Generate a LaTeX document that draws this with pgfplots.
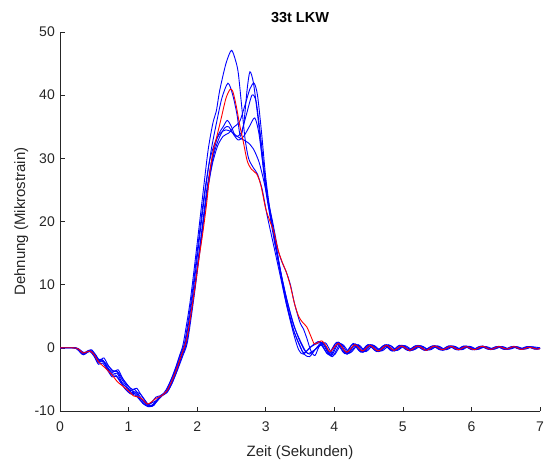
\documentclass[border=0pt]{standalone}
\usepackage{pgfplots}
\pgfplotsset{compat=1.18}
\usepackage{fontspec}
\setmainfont{Liberation Sans}
\definecolor{axgray}{RGB}{38,38,38}
\definecolor{mblue}{RGB}{0,0,255}
\definecolor{mred}{RGB}{255,0,0}

\begin{document}
\begin{tikzpicture}
\begin{axis}[
  scale only axis,
  width=480bp, height=379bp,
  xmin=0, xmax=7, ymin=-10, ymax=50,
  xtick={0,1,...,7}, ytick={-10,0,...,50},
  axis x line*=bottom, axis y line*=left,
  axis line style={draw=axgray, line width=0.6bp},
  tick style={draw=axgray, line width=0.6bp},
  tick align=inside, major tick length=4.5bp,
  /pgf/number format/assume math mode=true,
  tick label style={font=\fontsize{14bp}{16bp}\selectfont, text=axgray, inner sep=0pt},
  yticklabel style={anchor=east, xshift=-5bp},
  xticklabel style={anchor=north, yshift=-11bp},
  title={33t LKW},
  title style={font=\fontsize{14.5bp}{16bp}\selectfont\bfseries, text=black, inner sep=0pt,
    at={(axis description cs:0.5,1)}, anchor=base, yshift=4bp},
  xlabel={Zeit (Sekunden)},
  xlabel style={font=\fontsize{15bp}{17bp}\selectfont, text=axgray, inner sep=0pt,
    at={(axis description cs:0.5,0)}, anchor=base, yshift=-45bp},
  ylabel={Dehnung (Mikrostrain)},
  ylabel style={font=\fontsize{15bp}{17bp}\selectfont, text=axgray, inner sep=0pt,
    at={(axis description cs:-0.0729,0.5)}, anchor=base},
  every axis plot/.append style={smooth, tension=0.45, line width=0.9bp},
  clip=true,
]
\coordinate (sw) at (rel axis cs:0,0);

% Messfahrt 1
\addplot[mblue] coordinates {
(0,0) (0.22,0) (0.28,-0.3) (0.34,-0.9) (0.39,-0.6) (0.45,-0.4) (0.51,-1.2) (0.57,-2.2) (0.63,-2.0) (0.7,-3.3)
(0.77,-4.2) (0.83,-4.0) (0.9,-5.4) (0.97,-6.3) (1.05,-7.1) (1.1,-7.0) (1.17,-8.0) (1.23,-8.7) (1.29,-9.3) (1.35,-9.0)
(1.42,-8.2) (1.48,-7.6) (1.55,-6.6) (1.62,-5.0) (1.69,-3.0) (1.75,-1.0) (1.80,0.8) (1.9,7.5) (2.0,16.5) (2.08,24)
(2.16,31.3) (2.23,35.6) (2.28,37.5) (2.33,40.8) (2.42,45) (2.5,47.1) (2.56,45.5) (2.6,43.5) (2.65,38.2) (2.7,33)
(2.75,30) (2.82,28.5) (2.88,27.5) (2.95,25) (3.02,21) (3.1,17) (3.2,12) (3.3,7) (3.4,3) (3.5,0.3) (3.56,-0.8)
(3.68,0.3) (3.82,0.8) (3.94,-1.2) (4.06,0.9) (4.18,-1.0) (4.30,0.6) (4.41,-0.7) (4.52,0.5) (4.64,-0.6) (4.76,0.5)
(4.87,-0.5) (4.98,0.4) (5.10,-0.5) (5.22,0.4) (5.34,-0.4) (5.46,0.35) (5.58,-0.4) (5.70,0.3) (5.81,-0.35) (5.92,0.3)
(6.04,-0.3) (6.16,0.3) (6.28,-0.3) (6.40,0.25) (6.51,-0.25) (6.62,0.25) (6.73,-0.25) (6.84,0.2) (6.95,-0.2) (7.0,-0.1)
};
% Messfahrt 2
\addplot[mblue] coordinates {
(0,0) (0.21,0) (0.27,-0.4) (0.33,-1.0) (0.38,-0.8) (0.44,-0.5) (0.5,-1.3) (0.56,-2.4) (0.62,-2.0) (0.69,-3.0)
(0.76,-3.9) (0.82,-3.6) (0.89,-4.8) (0.96,-5.9) (1.03,-6.8) (1.09,-6.6) (1.16,-7.6) (1.22,-8.5) (1.28,-9.0) (1.34,-8.7)
(1.41,-8.3) (1.47,-7.5) (1.54,-7.1) (1.61,-5.8) (1.68,-3.8) (1.76,-1.3) (1.83,1.0) (1.93,8) (2.03,17) (2.12,25)
(2.2,31) (2.28,35.5) (2.36,39.5) (2.45,41.9) (2.52,40) (2.58,37) (2.63,33.5) (2.68,35.5) (2.73,41) (2.77,43.7)
(2.82,42) (2.88,37) (2.94,31) (3.0,25) (3.06,21) (3.14,16) (3.22,11.5) (3.3,7) (3.4,2.5) (3.48,-0.3) (3.55,-1.0)
(3.66,0.2) (3.79,1.0) (3.91,-1.0) (4.03,0.8) (4.15,-0.9) (4.27,0.6) (4.38,-0.6) (4.49,0.5) (4.61,-0.5) (4.73,0.4)
(4.84,-0.5) (4.95,0.4) (5.07,-0.4) (5.19,0.35) (5.31,-0.35) (5.43,0.3) (5.55,-0.35) (5.67,0.3) (5.78,-0.3) (5.89,0.3)
(6.01,-0.3) (6.13,0.25) (6.25,-0.25) (6.37,0.2) (6.48,-0.25) (6.59,0.2) (6.70,-0.2) (6.81,0.2) (6.92,-0.2) (7.0,0.0)
};
% Messfahrt 3
\addplot[mblue] coordinates {
(0,0) (0.23,0) (0.29,-0.3) (0.35,-0.8) (0.4,-0.5) (0.46,-0.3) (0.52,-1.1) (0.58,-2.0) (0.64,-1.6) (0.71,-2.9)
(0.78,-3.8) (0.85,-3.5) (0.92,-5.0) (0.99,-6.0) (1.06,-6.6) (1.12,-6.4) (1.19,-7.6) (1.25,-8.5) (1.31,-9.3) (1.37,-9.1)
(1.44,-8.0) (1.5,-7.3) (1.57,-6.9) (1.64,-5.5) (1.71,-3.6) (1.79,-1.3) (1.86,1.0) (1.96,8.5) (2.06,17) (2.15,25)
(2.24,30.5) (2.32,33.2) (2.4,34.8) (2.46,35) (2.53,33.8) (2.6,32.9) (2.68,33.5) (2.76,35) (2.84,36.4) (2.9,34)
(2.96,29) (3.02,24) (3.1,19) (3.2,13) (3.3,8) (3.4,4) (3.48,1.5) (3.56,-0.3) (3.62,-0.9)
(3.73,-0.2) (3.85,0.6) (3.97,-1.4) (4.09,0.7) (4.21,-0.9) (4.33,0.5) (4.44,-0.6) (4.55,0.5) (4.67,-0.5) (4.79,0.5)
(4.90,-0.4) (5.01,0.35) (5.13,-0.4) (5.25,0.35) (5.37,-0.3) (5.49,0.3) (5.61,-0.3) (5.73,0.3) (5.84,-0.3) (5.95,0.25)
(6.07,-0.3) (6.19,0.2) (6.31,-0.25) (6.43,0.2) (6.54,-0.2) (6.65,0.2) (6.76,-0.2) (6.87,0.15) (6.98,-0.15) (7.0,-0.1)
};
% Messfahrt 4
\addplot[mblue] coordinates {
(0,0) (0.2,0) (0.26,-0.3) (0.32,-1.0) (0.37,-0.9) (0.43,-0.5) (0.49,-1.0) (0.55,-1.9) (0.61,-1.8) (0.68,-3.1)
(0.75,-4.3) (0.81,-4.3) (0.88,-5.2) (0.95,-6.5) (1.03,-7.3) (1.09,-7.2) (1.15,-7.9) (1.21,-8.8) (1.27,-9.1) (1.33,-8.7)
(1.40,-7.8) (1.46,-7.6) (1.52,-7.4) (1.6,-6.2) (1.67,-4.4) (1.75,-2.0) (1.84,0.8) (1.94,7.5) (2.04,16) (2.14,24)
(2.22,29) (2.3,32) (2.38,33.5) (2.46,34) (2.54,35) (2.62,35.8) (2.7,38.5) (2.77,41) (2.83,41.9) (2.88,40)
(2.94,34) (3.0,27) (3.06,22) (3.14,17) (3.22,12) (3.3,8) (3.4,3.8) (3.5,1.2) (3.58,-0.5) (3.64,-1.0)
(3.72,-0.3) (3.83,0.9) (3.95,-1.3) (4.07,0.8) (4.19,-1.0) (4.31,0.6) (4.42,-0.7) (4.53,0.5) (4.65,-0.6) (4.77,0.45)
(4.88,-0.5) (4.99,0.4) (5.11,-0.45) (5.23,0.35) (5.35,-0.4) (5.47,0.3) (5.59,-0.35) (5.71,0.3) (5.82,-0.3) (5.93,0.25)
(6.05,-0.3) (6.17,0.25) (6.29,-0.25) (6.41,0.2) (6.52,-0.25) (6.63,0.2) (6.74,-0.2) (6.85,0.2) (6.96,-0.2) (7.0,-0.1)
};
% Messfahrt 5
\addplot[mblue] coordinates {
(0,0) (0.21,0) (0.27,-0.2) (0.33,-0.7) (0.38,-0.7) (0.44,-0.6) (0.5,-1.4) (0.56,-2.6) (0.62,-2.4) (0.69,-3.5)
(0.76,-4.6) (0.82,-4.5) (0.89,-5.6) (0.96,-6.6) (1.04,-7.3) (1.1,-7.5) (1.16,-8.2) (1.22,-8.9) (1.28,-9.3) (1.34,-9.2)
(1.41,-8.5) (1.47,-7.8) (1.54,-7.0) (1.6,-5.6) (1.67,-3.8) (1.74,-1.5) (1.82,1.0) (1.92,8) (2.02,17) (2.1,24)
(2.18,29.5) (2.26,32.5) (2.34,34) (2.42,34.5) (2.5,34.2) (2.58,33.5) (2.66,33) (2.74,32.5) (2.82,31.5) (2.9,29.5)
(2.96,27) (3.02,24) (3.1,20) (3.18,15.5) (3.24,13.5) (3.3,12) (3.36,10) (3.42,7) (3.5,4) (3.55,3) (3.6,1.5)
(3.66,-0.5) (3.72,-1.2) (3.80,0.5) (3.92,-1.1) (4.04,0.9) (4.16,-0.9) (4.28,0.7) (4.39,-0.7) (4.50,0.5) (4.62,-0.6)
(4.74,0.5) (4.85,-0.5) (4.96,0.4) (5.08,-0.4) (5.20,0.3) (5.32,-0.4) (5.44,0.3) (5.56,-0.3) (5.68,0.3) (5.79,-0.3)
(5.90,0.25) (6.02,-0.3) (6.14,0.25) (6.26,-0.2) (6.38,0.2) (6.49,-0.25) (6.60,0.2) (6.71,-0.2) (6.82,0.15) (6.93,-0.2) (7.0,-0.05)
};
% Messfahrt 6
\addplot[mblue] coordinates {
(0,0) (0.22,0) (0.28,-0.4) (0.34,-1.1) (0.39,-0.8) (0.45,-0.5) (0.51,-1.0) (0.57,-2.0) (0.64,-2.2) (0.7,-2.8)
(0.77,-3.6) (0.84,-3.8) (0.91,-4.8) (0.98,-5.8) (1.06,-6.9) (1.12,-7.0) (1.18,-7.4) (1.24,-8.3) (1.3,-9.1) (1.36,-9.0)
(1.43,-8.2) (1.49,-7.5) (1.56,-7.1) (1.63,-5.6) (1.7,-3.8) (1.78,-1.2) (1.85,1.0) (1.95,8.5) (2.05,17) (2.14,25)
(2.22,30) (2.3,33.5) (2.38,35) (2.44,36) (2.5,35) (2.56,33.5) (2.64,34) (2.72,37) (2.8,40) (2.86,39)
(2.92,34) (2.98,28) (3.04,23) (3.12,18) (3.2,13) (3.3,7.5) (3.4,3) (3.5,0.2) (3.56,-1.0) (3.64,-1.4)
(3.75,0.1) (3.87,0.8) (3.99,-1.2) (4.11,0.6) (4.23,-0.8) (4.35,0.5) (4.46,-0.6) (4.57,0.4) (4.69,-0.5) (4.81,0.4)
(4.92,-0.4) (5.03,0.35) (5.15,-0.35) (5.27,0.3) (5.39,-0.35) (5.51,0.3) (5.63,-0.3) (5.75,0.25) (5.86,-0.3) (5.97,0.25)
(6.09,-0.25) (6.21,0.2) (6.33,-0.2) (6.45,0.2) (6.56,-0.2) (6.67,0.15) (6.78,-0.2) (6.89,0.15) (7.0,0.0)
};
% Mittelwert
\addplot[mred] coordinates {
(0,0) (0.2,0) (0.27,-0.2) (0.33,-0.8) (0.38,-0.7) (0.44,-0.5) (0.5,-1.1) (0.56,-2.2) (0.62,-2.8) (0.68,-3.4)
(0.76,-4.3) (0.84,-5.4) (0.92,-6.1) (1.0,-6.8) (1.07,-7.6) (1.15,-7.8) (1.21,-8.2) (1.27,-8.9) (1.33,-8.6) (1.4,-8.0)
(1.48,-7.6) (1.56,-6.8) (1.63,-5.3) (1.70,-3.4) (1.77,-1.2) (1.85,1.5) (1.94,7.5) (2.03,14.4) (2.08,18) (2.14,23)
(2.19,28.3) (2.24,31.5) (2.29,33.6) (2.35,36.3) (2.42,39.5) (2.48,40.9) (2.52,40.6) (2.57,38.3) (2.62,35.3) (2.67,32.8)
(2.73,29.6) (2.79,28.3) (2.87,27.5) (2.93,25.7) (3.0,22.0) (3.07,19.8) (3.12,18.3) (3.18,15.5) (3.24,13.6) (3.3,12.0)
(3.36,9.8) (3.42,7.0) (3.48,5.0) (3.54,4.0) (3.6,3.3) (3.66,1.8) (3.71,0.6) (3.77,0.9) (3.82,1.1) (3.88,0.3) (3.94,-0.6)
(4.06,0.7) (4.18,-0.7) (4.30,0.5) (4.41,-0.5) (4.52,0.4) (4.64,-0.5) (4.76,0.4) (4.87,-0.4) (4.98,0.3) (5.10,-0.4)
(5.22,0.3) (5.34,-0.4) (5.46,0.3) (5.58,-0.3) (5.70,0.25) (5.81,-0.3) (5.92,0.2) (6.04,-0.3) (6.16,0.25) (6.28,-0.25)
(6.40,0.2) (6.51,-0.2) (6.62,0.2) (6.73,-0.25) (6.84,0.1) (6.95,-0.2) (7.0,-0.1)
};
\end{axis}
\pgfresetboundingbox
\path[use as bounding box] (sw) ++(-60bp,-50bp) rectangle ++(544bp,461bp);
\end{tikzpicture}
\end{document}
